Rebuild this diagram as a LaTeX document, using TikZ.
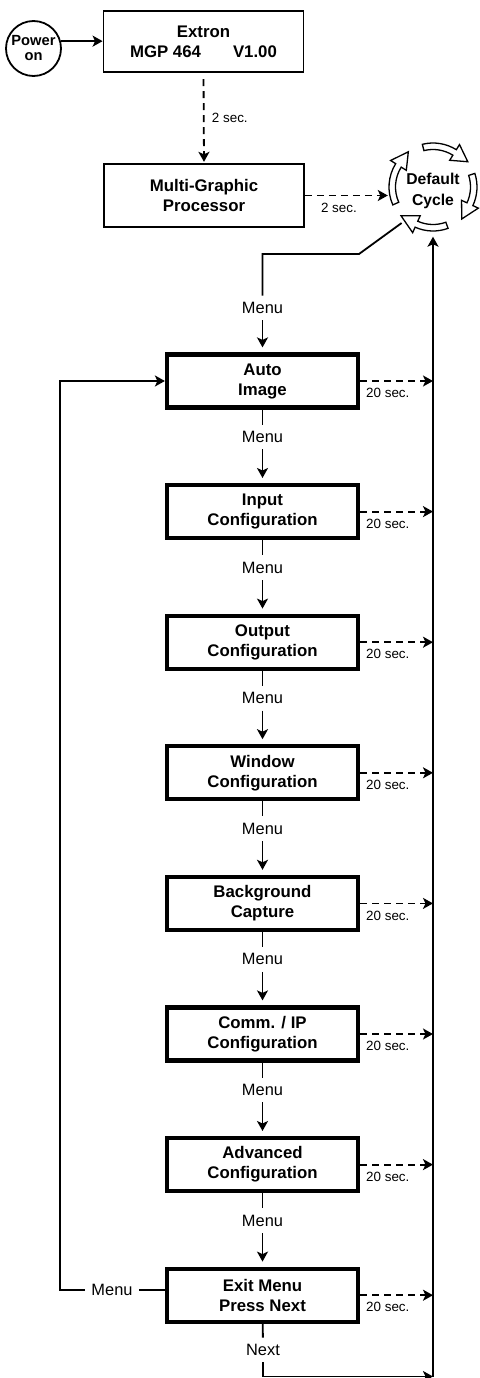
\documentclass[tikz,border=0pt]{standalone}
\usepackage{fontspec}
\setmainfont{Liberation Sans}
\usetikzlibrary{arrows.meta}

\tikzset{
  stage/.style={draw, line width=1.8pt, minimum width=200pt, align=center,
    font=\bfseries\fontsize{16.8}{20}\selectfont},
  menubox/.style={draw, line width=4.2pt, minimum width=191pt, minimum height=53pt,
    align=center, font=\bfseries\fontsize{16.8}{20}\selectfont},
  keylbl/.style={inner sep=6.5pt, font=\fontsize{16.4}{18}\selectfont},
  waitlbl/.style={font=\fontsize{13.4}{16}\selectfont},
  wire/.style={line width=1.8pt},
  flow/.style={wire, -{Stealth[length=10pt,width=11pt,inset=2.5pt]}},
  timeout/.style={flow, dash pattern=on 7pt off 5pt},
  spin/.style={line width=1.3pt, fill=white},
}

\begin{document}
\begin{tikzpicture}[x=1pt,y=1pt]
  \useasboundingbox (0,0) rectangle (479,-1378);
  % start up
  \node[draw, circle, line width=1.8pt, minimum size=55pt, inner sep=0pt, align=center,
    font=\bfseries\fontsize{14.7}{15}\selectfont] (pwr) at (33.5,-48.5) {Power\\on};
  \node[stage, minimum height=61.5pt] (ext) at (203.5,-41.5) {Extron\\MGP 464\hspace{32pt}V1.00};
  \node[stage, minimum height=63.5pt] (mgp) at (204,-195.5) {Multi-Graphic\\Processor};
  \node[circle, minimum size=90pt, inner sep=0pt, align=center,
    font=\bfseries\fontsize{15.7}{21}\selectfont] (cyc) at (433,-190.5) {Default\\Cycle};
  \begin{scope}[shift={(433,-187)}]
    \draw[spin] (104:44pt) arc[start angle=104, end angle=58, radius=44pt] -- (58:50pt) -- (36:43pt)
      -- (58:31.5pt) -- (58:37.5pt) arc[start angle=58, end angle=104, radius=37.5pt] -- cycle;
    \draw[spin] (18:44pt) arc[start angle=18, end angle=-25, radius=44pt] -- (-25:50pt) -- (-48:43pt)
      -- (-25:31.5pt) -- (-25:37.5pt) arc[start angle=-25, end angle=18, radius=37.5pt] -- cycle;
    \draw[spin] (-70:44pt) arc[start angle=-70, end angle=-114, radius=44pt] -- (-114:50pt) -- (-138:43pt)
      -- (-114:31.5pt) -- (-114:37.5pt) arc[start angle=-114, end angle=-70, radius=37.5pt] -- cycle;
    \draw[spin] (204:44pt) arc[start angle=204, end angle=148, radius=44pt] -- (148:50pt) -- (125:43pt)
      -- (148:31.5pt) -- (148:37.5pt) arc[start angle=148, end angle=204, radius=37.5pt] -- cycle;
  \end{scope}

  % menu
  \node[menubox] (ai) at (262.5,-381) {Auto\\Image};
  \node[menubox] (ic) at (262.5,-511.6) {Input\\Configuration};
  \node[menubox] (oc) at (262.5,-642.2) {Output\\Configuration};
  \node[menubox] (wc) at (262.5,-772.8) {Window\\Configuration};
  \node[menubox] (bc) at (262.5,-903.4) {Background\\Capture};
  \node[menubox] (cc) at (262.5,-1034) {Comm. / IP\\Configuration};
  \node[menubox] (ac) at (262.5,-1164.6) {Advanced\\Configuration};
  \node[menubox] (ex) at (262.5,-1295.2) {Exit Menu\\Press Next};

  \node[keylbl] (m0) at (262.5,-308) {Menu};
  \node[keylbl] (m1) at (262.5,-437) {Menu};
  \node[keylbl] (m2) at (262.5,-567.6) {Menu};
  \node[keylbl] (m3) at (262.5,-698.2) {Menu};
  \node[keylbl] (m4) at (262.5,-828.8) {Menu};
  \node[keylbl] (m5) at (262.5,-959.4) {Menu};
  \node[keylbl] (m6) at (262.5,-1090) {Menu};
  \node[keylbl] (m7) at (262.5,-1220.6) {Menu};
  \node[keylbl] (mx) at (112,-1290) {Menu};
  \node[keylbl] (nx) at (263,-1350) {Next};

  \coordinate (bend) at (359,-254);
  \coordinate (rtn) at (433,-1376.5);
  \coordinate (lp) at (60,-381);

  \draw[flow] (pwr.15) -- (pwr.15 -| ext.west);
  \draw[timeout, shorten <=6pt, shorten >=1pt] (ext.south) -- (mgp.north)
    node[midway, right=4pt, waitlbl] {2 sec.};
  \draw[timeout] (mgp.east) -- (mgp.east -| cyc.west) node[pos=0.41, below=3pt, waitlbl] {2 sec.};
  \draw[wire] (cyc.-134) -- (bend) -| (m0.north);

  \draw[flow, shorten >=5pt] (m0) -- (ai);
  \draw[wire] (ai) -- (m1);
  \draw[flow, shorten >=5pt] (m1) -- (ic);
  \draw[wire] (ic) -- (m2);
  \draw[flow, shorten >=5pt] (m2) -- (oc);
  \draw[wire] (oc) -- (m3);
  \draw[flow, shorten >=5pt] (m3) -- (wc);
  \draw[wire] (wc) -- (m4);
  \draw[flow, shorten >=5pt] (m4) -- (bc);
  \draw[wire] (bc) -- (m5);
  \draw[flow, shorten >=5pt] (m5) -- (cc);
  \draw[wire] (cc) -- (m6);
  \draw[flow, shorten >=5pt] (m6) -- (ac);
  \draw[wire] (ac) -- (m7);
  \draw[flow, shorten >=5pt] (m7) -- (ex);

  % time outs
  \draw[timeout] (ai.east) -- (ai.east -| rtn) node[pos=0.38, below=3pt, waitlbl] {20 sec.};
  \draw[timeout] (ic.east) -- (ic.east -| rtn) node[pos=0.38, below=3pt, waitlbl] {20 sec.};
  \draw[timeout] (oc.east) -- (oc.east -| rtn) node[pos=0.38, below=3pt, waitlbl] {20 sec.};
  \draw[timeout] (wc.east) -- (wc.east -| rtn) node[pos=0.38, below=3pt, waitlbl] {20 sec.};
  \draw[timeout] (bc.east) -- (bc.east -| rtn) node[pos=0.38, below=3pt, waitlbl] {20 sec.};
  \draw[timeout] (cc.east) -- (cc.east -| rtn) node[pos=0.38, below=3pt, waitlbl] {20 sec.};
  \draw[timeout] (ac.east) -- (ac.east -| rtn) node[pos=0.38, below=3pt, waitlbl] {20 sec.};
  \draw[timeout] (ex.east) -- (ex.east -| rtn) node[pos=0.38, below=3pt, waitlbl] {20 sec.};

  % way back
  \draw[wire] (ex) -- (nx);
  \draw[flow] (nx.south) |- (rtn);
  \draw[flow, shorten >=1pt] (rtn) -- (cyc.south);
  \draw[wire] (mx.east) -- (mx.east -| ex.west);
  \draw[flow] (mx.west) -| (lp) -- (ai.west);
\end{tikzpicture}
\end{document}
